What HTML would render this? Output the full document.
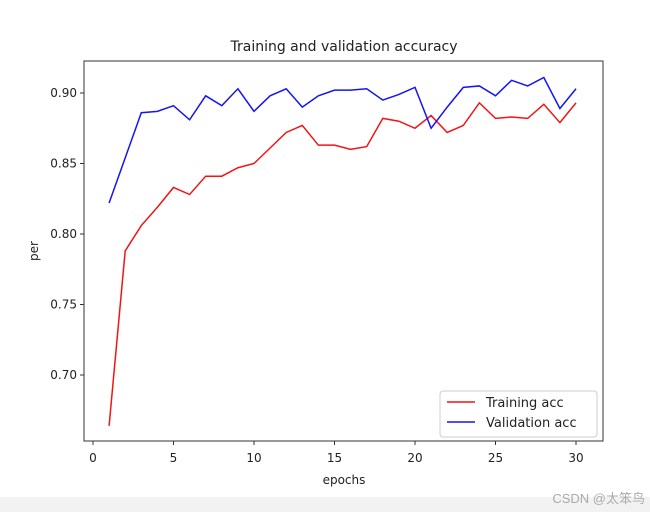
<!DOCTYPE html>
<html><head><meta charset="utf-8"><style>
body{margin:0;background:#fff;width:650px;height:512px;overflow:hidden;font-family:"Liberation Sans","DejaVu Sans",sans-serif}
svg text{font-family:"DejaVu Sans","Liberation Sans",sans-serif;fill:#222}
</style></head><body>
<svg width="650" height="512" id="chart">
<rect x="0" y="497" width="650" height="15" fill="#f2f2f2"/>
<text x="344" y="51" font-size="14" text-anchor="middle">Training and validation accuracy</text>
<rect x="84" y="61" width="519" height="380" fill="none" stroke="#333" stroke-width="1"/>
<g id="xt"></g><g id="yt"></g>
<text x="344" y="484" font-size="12" text-anchor="middle">epochs</text>
<text x="38" y="251" font-size="12" text-anchor="middle" transform="rotate(-90 38 251)">per</text>
<g id="lines"></g>
<g>
<rect x="440" y="391" width="157" height="46" rx="3" fill="#fff" stroke="#ccc"/>
<line x1="447" y1="402" x2="475" y2="402" stroke="#f01515" stroke-width="1.5"/>
<text x="486" y="407" font-size="13">Training acc</text>
<line x1="447" y1="422" x2="475" y2="422" stroke="#1515f0" stroke-width="1.5"/>
<text x="486" y="427" font-size="13">Validation acc</text>
</g>
<text x="645" y="503" font-size="13" text-anchor="end" fill="#999" style="fill:#aaa;font-family:'Liberation Sans','Noto Sans CJK SC',sans-serif">CSDN @太笨鸟</text>
</svg>
<script>
const epochs=[1,2,3,4,5,6,7,8,9,10,11,12,13,14,15,16,17,18,19,20,21,22,23,24,25,26,27,28,29,30];
const trainAcc=[0.664,0.788,0.806,0.819,0.833,0.828,0.841,0.841,0.847,0.850,0.861,0.872,0.877,0.863,0.863,0.860,0.862,0.882,0.880,0.875,0.884,0.872,0.877,0.893,0.882,0.883,0.882,0.892,0.879,0.893];
const valAcc=[0.822,0.854,0.886,0.887,0.891,0.881,0.898,0.891,0.903,0.887,0.898,0.903,0.890,0.898,0.902,0.902,0.903,0.895,0.899,0.904,0.875,0.890,0.904,0.905,0.898,0.909,0.905,0.911,0.889,0.903];
const xTicks=[0,5,10,15,20,25,30];
const yTicks=[0.70,0.75,0.80,0.85,0.90];
const NS="http://www.w3.org/2000/svg";
const sx=v=>93+v*16.1;
const sy=v=>93+(0.90-v)*1410;
const xt=document.getElementById('xt'),yt=document.getElementById('yt'),lines=document.getElementById('lines');
xTicks.forEach(t=>{
 const l=document.createElementNS(NS,'line');
 l.setAttribute('x1',sx(t));l.setAttribute('x2',sx(t));l.setAttribute('y1',441);l.setAttribute('y2',445);l.setAttribute('stroke','#333');
 
 
 xt.appendChild(l);
 const s=document.createElementNS(NS,'text');
 s.setAttribute('x',sx(t));s.setAttribute('y',462);s.setAttribute('font-size','12');s.setAttribute('text-anchor','middle');s.textContent=t;
 
 
 xt.appendChild(s);
});
yTicks.forEach(t=>{
 const l=document.createElementNS(NS,'line');
 l.setAttribute('x1',80);l.setAttribute('x2',84);l.setAttribute('y1',sy(t));l.setAttribute('y2',sy(t));l.setAttribute('stroke','#333');
 
 
 yt.appendChild(l);
 const s=document.createElementNS(NS,'text');
 s.setAttribute('x',77);s.setAttribute('y',sy(t)+4);s.setAttribute('font-size','12');s.setAttribute('text-anchor','end');s.textContent=t.toFixed(2);
 
 
 yt.appendChild(s);
});
function line(data,color,name){
 const p=document.createElementNS(NS,'polyline');
 p.setAttribute('points',data.map((v,i)=>sx(epochs[i])+','+sy(v)).join(' '));
 p.setAttribute('fill','none');p.setAttribute('stroke',color);p.setAttribute('stroke-width','1.5');
 
 
 lines.appendChild(p);
}
line(trainAcc,'#f01515','training-acc-line');
line(valAcc,'#1515f0','validation-acc-line');
</script>
</body></html>
